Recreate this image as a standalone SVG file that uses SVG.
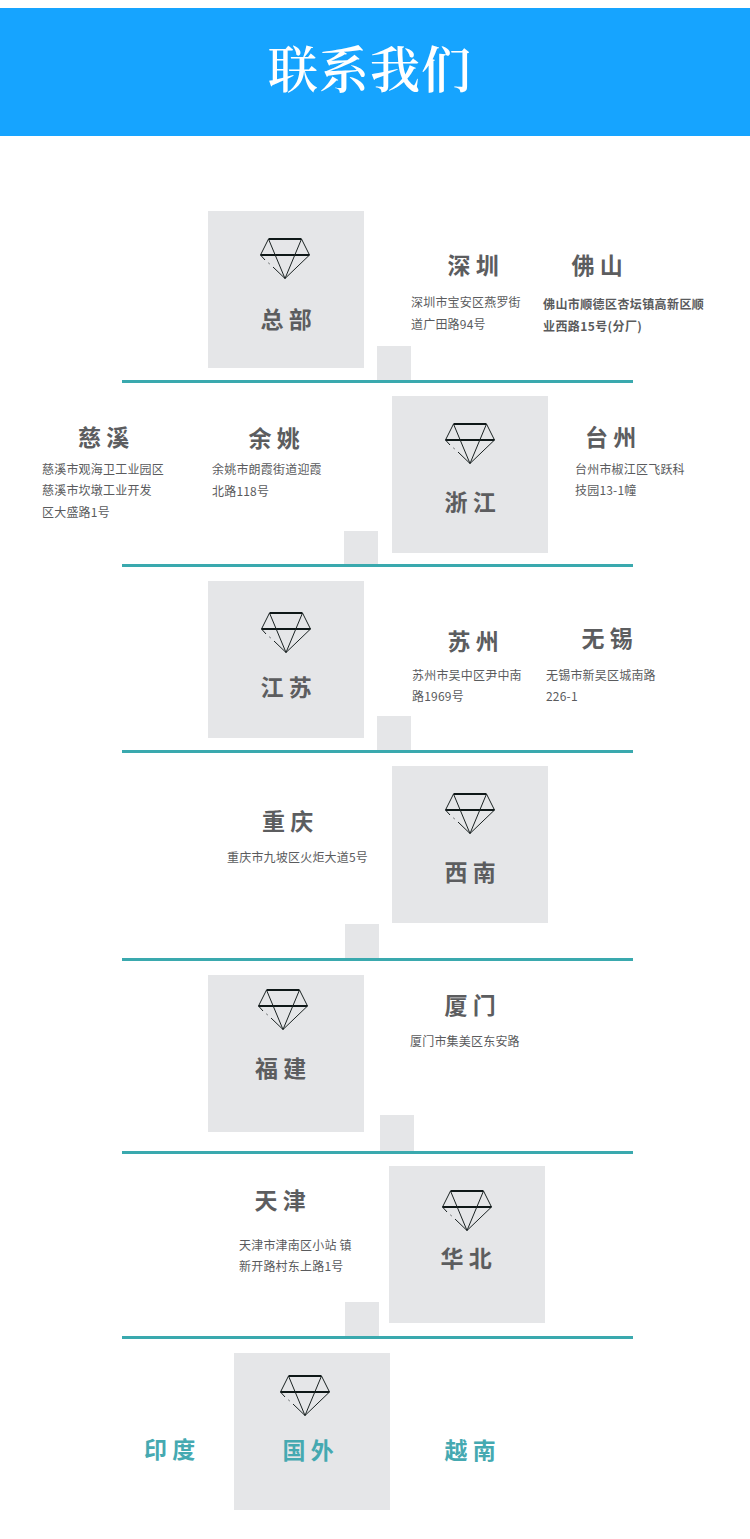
<svg xmlns="http://www.w3.org/2000/svg" width="750" height="1539" viewBox="0 0 750 1539">
<style>
.bg{fill:#e5e6e8}
.rule{fill:#3aa9ae}
.h{font-family:"Noto Sans CJK SC","Liberation Sans",sans-serif;font-size:23px;font-weight:700;fill:#5c5d5f}
.t{font-family:"Noto Sans CJK SC","Liberation Sans",sans-serif;font-size:12px;letter-spacing:.2px;fill:#5a5b5d}
.b{font-weight:700;letter-spacing:.4px}
.c{fill:#45a9b1}
.title{font-family:"Noto Serif CJK SC","Noto Sans CJK SC",serif;font-size:50px;font-weight:600;fill:#fff;letter-spacing:1px}
.d{fill:none;stroke:#1a2222;stroke-width:1}
.d2{fill:none;stroke:#0f1818;stroke-width:1.8}
</style>
<defs>
<g id="dia">
<path class="d2" d="M-16.500 0H16.500M-24.500 16H24.500"/>
<path class="d" d="M-16.500 0L-24.500 16L-20 21M-12 28L0 39.500L24.500 16L16.500 0M-16.500 0L0 39.500L16.500 0"/>
<path class="d" d="M-16.500 24L-15.500 24.800"/>
</g>
</defs>
<rect width="750" height="1539" fill="#fff"/>
<g id="header"><rect y="8" width="750" height="128" fill="#16a4ff"/><text class="title" x="370" y="88" text-anchor="middle">联系我们</text></g>
<g id="connectors">
<rect class="rule" x="122" y="380" width="511" height="3"/>
<rect class="rule" x="122" y="564" width="511" height="3"/>
<rect class="rule" x="122" y="750" width="511" height="3"/>
<rect class="rule" x="122" y="958" width="511" height="3"/>
<rect class="rule" x="122" y="1151" width="511" height="3"/>
<rect class="rule" x="122" y="1336" width="511" height="3"/>
</g>
<g id="zongbu"><rect class="bg" x="208" y="211" width="156" height="157"/><rect class="bg" x="377" y="346" width="34" height="34"/><use href="#dia" x="285" y="239"/><text class="h" x="260.500" y="328">总 部</text></g>
<g id="shenzhen"><text class="h" x="447.500" y="274">深 圳</text><text class="t" x="411" y="307">深圳市宝安区燕罗街</text><text class="t" x="411" y="329">道广田路94号</text></g>
<g id="foshan"><text class="h" x="571.500" y="274">佛 山</text><text class="t b" x="543" y="309">佛山市顺德区杏坛镇高新区顺</text><text class="t b" x="543" y="331">业西路15号(分厂)</text></g>
<g id="zhejiang"><rect class="bg" x="392" y="396" width="156" height="157"/><rect class="bg" x="344" y="531" width="34" height="33"/><use href="#dia" x="470" y="424"/><text class="h" x="444.500" y="511">浙 江</text></g>
<g id="cixi"><text class="h" x="78" y="446">慈 溪</text><text class="t" x="42" y="474">慈溪市观海卫工业园区</text><text class="t" x="42" y="495">慈溪市坎墩工业开发</text><text class="t" x="42" y="517">区大盛路1号</text></g>
<g id="yuyao"><text class="h" x="248.500" y="447">余 姚</text><text class="t" x="212" y="474">余姚市朗霞街道迎霞</text><text class="t" x="212" y="496">北路118号</text></g>
<g id="taizhou"><text class="h" x="585" y="446">台 州</text><text class="t" x="575" y="474">台州市椒江区飞跃科</text><text class="t" x="575" y="495">技园13-1幢</text></g>
<g id="jiangsu"><rect class="bg" x="208" y="581" width="156" height="157"/><rect class="bg" x="377" y="716" width="34" height="34"/><use href="#dia" x="286" y="613"/><text class="h" x="260.500" y="696">江 苏</text></g>
<g id="suzhou"><text class="h" x="447.500" y="650">苏 州</text><text class="t" x="412" y="680">苏州市吴中区尹中南</text><text class="t" x="412" y="701">路1969号</text></g>
<g id="wuxi"><text class="h" x="581.500" y="647">无 锡</text><text class="t" x="546" y="680">无锡市新吴区城南路</text><text class="t" x="546" y="701">226-1</text></g>
<g id="xinan"><rect class="bg" x="392" y="766" width="156" height="157"/><rect class="bg" x="345" y="924" width="34" height="34"/><use href="#dia" x="470" y="794"/><text class="h" x="444.500" y="881">西 南</text></g>
<g id="chongqing"><text class="h" x="262" y="830">重 庆</text><text class="t" x="227" y="862">重庆市九坡区火炬大道5号</text></g>
<g id="fujian"><rect class="bg" x="208" y="975" width="156" height="157"/><rect class="bg" x="380" y="1115" width="34" height="36"/><use href="#dia" x="283" y="990"/><text class="h" x="255" y="1077">福 建</text></g>
<g id="xiamen"><text class="h" x="444.500" y="1014">厦 门</text><text class="t" x="410" y="1046">厦门市集美区东安路</text></g>
<g id="huabei"><rect class="bg" x="389" y="1166" width="156" height="157"/><rect class="bg" x="345" y="1302" width="34" height="34"/><use href="#dia" x="467" y="1191"/><text class="h" x="440.500" y="1267">华 北</text></g>
<g id="tianjin"><text class="h" x="254.500" y="1209">天 津</text><text class="t" x="239" y="1250">天津市津南区小站 镇</text><text class="t" x="239" y="1271">新开路村东上路1号</text></g>
<g id="guowai"><rect class="bg" x="234" y="1353" width="156" height="157"/><use href="#dia" x="305" y="1376"/><text class="h c" x="282.500" y="1459">国 外</text></g>
<g id="yindu"><text class="h c" x="144" y="1458">印 度</text></g>
<g id="yuenan"><text class="h c" x="444.500" y="1459">越 南</text></g>
</svg>
